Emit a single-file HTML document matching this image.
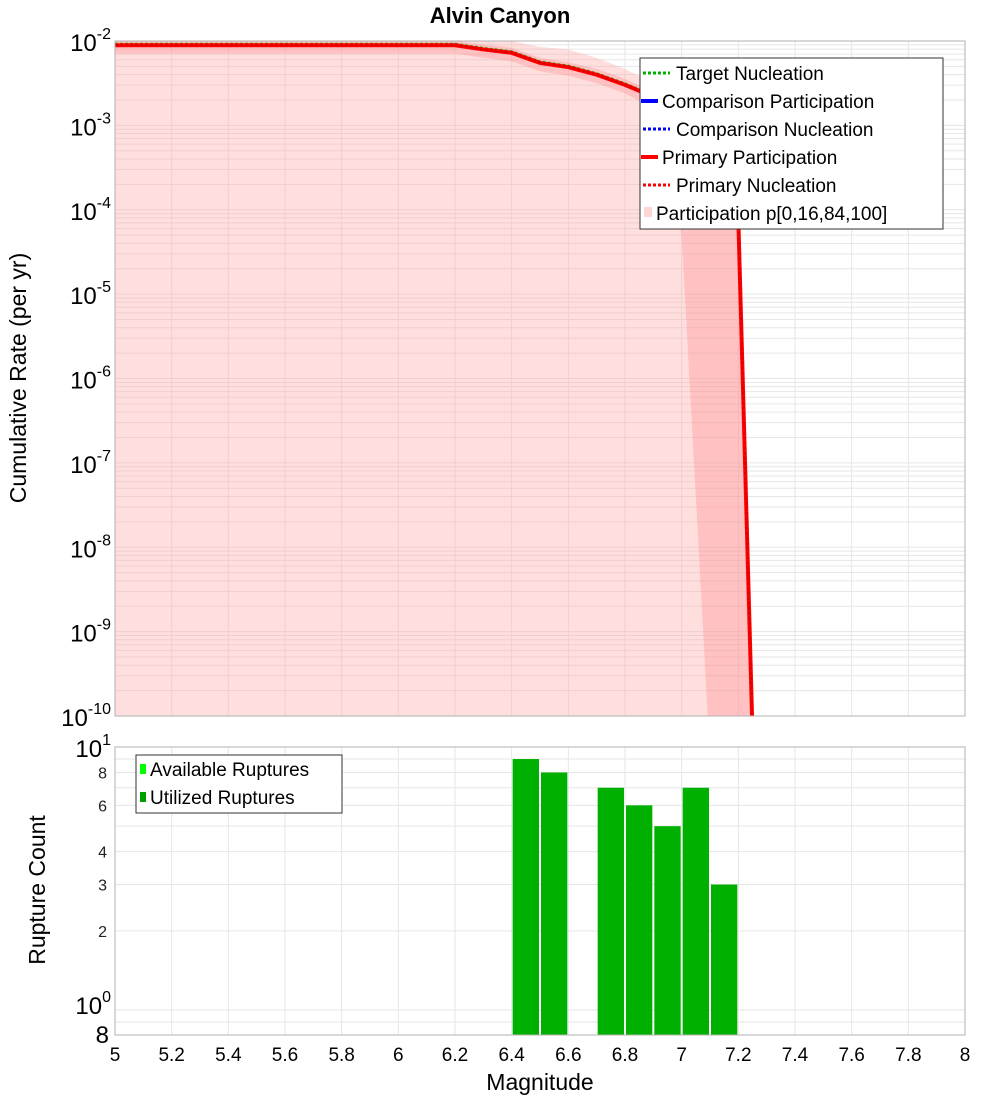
<!DOCTYPE html>
<html><head><meta charset="utf-8"><style>
body{margin:0;background:#fff;}
svg{display:block;font-family:"Liberation Sans","DejaVu Sans",sans-serif;}
</style></head><body>
<svg id="c" width="1000" height="1100" viewBox="0 0 1000 1100" xmlns="http://www.w3.org/2000/svg"></svg>
<script>
// ---- data ----
const mags = [5.0,5.5,6.0,6.2,6.3,6.4,6.5,6.6,6.7,6.8,6.9,7.0,7.1,7.2,7.25];
const primaryLog = [-2.05,-2.05,-2.05,-2.05,-2.1,-2.14,-2.26,-2.31,-2.40,-2.52,-2.66,-2.84,-3.17,-4.12,-10.2];
const outerUpperLog = [-1.95,-1.95,-1.95,-1.97,-1.97,-2.0,-2.07,-2.1,-2.2,-2.33,-2.5,-2.72,-3.0,-4.0,-10.2];
const innerUpperLog = [-1.98,-1.98,-1.98,-2.0,-2.04,-2.08,-2.2,-2.25,-2.33,-2.45,-2.6,-2.78,-3.1,-4.1,-10.2];
const innerLowerLog = [-2.15,-2.15,-2.15,-2.15,-2.2,-2.24,-2.36,-2.41,-2.5,-2.62,-2.8,-4.3,-10.5,-10.5,-10.5];
const barMags = [6.45,6.55,6.75,6.85,6.95,7.05,7.15];
const barCounts = [9,8,7,6,5,7,3];
const xTicks = [5,5.2,5.4,5.6,5.8,6,6.2,6.4,6.6,6.8,7,7.2,7.4,7.6,7.8,8];
const xTickLabels = ["5","5.2","5.4","5.6","5.8","6","6.2","6.4","6.6","6.8","7","7.2","7.4","7.6","7.8","8"];
const topExps = [-2,-3,-4,-5,-6,-7,-8,-9,-10];
const botTicks = [8,6,4,3,2];

// ---- axes ----
const L=115,R=965,T1=41,B1=716,T2=747,B2=1035;
const x = m => L+(m-5)/3*(R-L);
const y1 = lg => T1+(-2-lg)*(B1-T1)/8;
const y2 = v => T2+(1-Math.log10(v))*263;
const svg=document.getElementById('c');
const NS='http://www.w3.org/2000/svg';
function el(tag,attrs,parent){const e=document.createElementNS(NS,tag);for(const k in attrs)e.setAttribute(k,attrs[k]);(parent||svg).appendChild(e);return e;}

// clip paths
const defs=el('defs',{});
const cp1=el('clipPath',{id:'cp1'},defs);el('rect',{x:L,y:T1,width:R-L,height:B1-T1},cp1);
const cp2=el('clipPath',{id:'cp2'},defs);el('rect',{x:L,y:T2,width:R-L,height:B2-T2},cp2);

// top grid
const g1=el('g',{'clip-path':'url(#cp1)'});


for(let e=-10;e<-2;e++){for(let k=1;k<10;k++){const yy=y1(e+Math.log10(k));el('line',{x1:L,x2:R,y1:yy,y2:yy,stroke:'#e6e6e6','stroke-width':1},g1);}}
xTicks.forEach(m=>el('line',{x1:x(m),x2:x(m),y1:T1,y2:B1,stroke:'#e6e6e6','stroke-width':1},g1));

// bands
const gb=el('g',{'clip-path':'url(#cp1)'});
function bandPath(up,lo){let d='';mags.forEach((m,i)=>{d+=(i?'L':'M')+x(m)+','+y1(up[i]);});for(let i=mags.length-1;i>=0;i--)d+='L'+x(mags[i])+','+y1(lo[i]);return d+'Z';}
const floorLog=mags.map((m,i)=>m<=7.2?-10.5:primaryLog[i]);
const ob=el('path',{d:bandPath(outerUpperLog,floorLog),fill:'rgba(255,160,160,0.35)'},gb);


const ib=el('path',{d:bandPath(innerUpperLog,innerLowerLog),fill:'rgba(255,140,140,0.35)'},gb);



// lines
let d='';mags.forEach((m,i)=>{d+=(i?'L':'M')+x(m)+','+y1(primaryLog[i]);});
const gl=el('g',{'clip-path':'url(#cp1)'});
const tn=el('path',{d:d,fill:'none',stroke:'#00b000','stroke-width':3,'stroke-dasharray':'3,2',transform:'translate(0,-1)'},gl);


const pp=el('path',{d:d,fill:'none',stroke:'#ff0000','stroke-width':4},gl);


const pn=el('path',{d:d,fill:'none',stroke:'#dd0000','stroke-width':2,'stroke-dasharray':'3,2'},gl);



el('rect',{x:L,y:T1,width:R-L,height:B1-T1,fill:'none',stroke:'#b0b0b0'});

// top y labels
topExps.forEach(e=>{const t=el('text',{x:L-4,y:y1(e)+10,'text-anchor':'end','font-size':24,fill:'#000'});


const a=el('tspan',{},t);a.textContent='10';const b=el('tspan',{dy:-12,'font-size':16},t);b.textContent=String(e);});

// bottom grid
const g2=el('g',{'clip-path':'url(#cp2)'});
[0.8,0.9,1,2,3,4,5,6,7,8,9].forEach(v=>{const yy=y2(v);el('line',{x1:L,x2:R,y1:yy,y2:yy,stroke:'#e6e6e6'},g2);});
xTicks.forEach(m=>el('line',{x1:x(m),x2:x(m),y1:T2,y2:B2,stroke:'#e6e6e6'},g2));
// bars
barMags.forEach((m,i)=>{const r=el('rect',{x:x(m-0.05)+1,y:y2(barCounts[i]),width:x(m+0.05)-x(m-0.05)-2,height:B2-y2(barCounts[i]),fill:'#00b000'},g2);

});
el('rect',{x:L,y:T2,width:R-L,height:B2-T2,fill:'none',stroke:'#b0b0b0'});

// bottom y labels
[[1,'1'],[0,'0']].forEach(([e,s])=>{const t=el('text',{x:L-4,y:y2(Math.pow(10,e))+ (e?10:4),'text-anchor':'end','font-size':24});


const a=el('tspan',{},t);a.textContent='10';const b=el('tspan',{dy:-12,'font-size':16},t);b.textContent=s;});
botTicks.forEach(v=>{const t=el('text',{x:L-8,y:y2(v)+6,'text-anchor':'end','font-size':16,fill:'#222'});t.textContent=String(v);

});
{const t=el('text',{x:L-6,y:B2+8,'text-anchor':'end','font-size':24});t.textContent='8';

}

// x labels
xTicks.forEach((m,i)=>{const t=el('text',{x:x(m),y:1061,'text-anchor':'middle','font-size':19});t.textContent=xTickLabels[i];

});
</script>
<svg width="1000" height="1100" style="position:absolute;left:0;top:0" xmlns="http://www.w3.org/2000/svg" font-family="Liberation Sans, DejaVu Sans, sans-serif">
<text x="500" y="23" text-anchor="middle" font-size="22" font-weight="bold">Alvin Canyon</text>
<text transform="translate(26,378) rotate(-90)" text-anchor="middle" font-size="23">Cumulative Rate (per yr)</text>
<text transform="translate(45,890) rotate(-90)" text-anchor="middle" font-size="23">Rupture Count</text>
<text x="540" y="1090" text-anchor="middle" font-size="23">Magnitude</text>
<g font-size="19">
<rect x="640" y="58" width="303" height="171" fill="#fff" stroke="#333"/>
<line x1="643" x2="670" y1="73" y2="73" stroke="#00b000" stroke-width="3" stroke-dasharray="3,2"/><text x="676" y="80">Target Nucleation</text>
<line x1="641" x2="658" y1="101" y2="101" stroke="#0000ff" stroke-width="4"/><text x="662" y="108">Comparison Participation</text>
<line x1="643" x2="670" y1="129" y2="129" stroke="#0000ff" stroke-width="3" stroke-dasharray="3,2"/><text x="676" y="136">Comparison Nucleation</text>
<line x1="641" x2="658" y1="157" y2="157" stroke="#ff0000" stroke-width="4"/><text x="662" y="164">Primary Participation</text>
<line x1="643" x2="670" y1="185" y2="185" stroke="#ff0000" stroke-width="3" stroke-dasharray="3,2"/><text x="676" y="192">Primary Nucleation</text>
<rect x="644" y="207" width="8" height="10" fill="#ffd6d6"/><text x="656" y="220">Participation p[0,16,84,100]</text>
</g>
<g font-size="19">
<rect x="136" y="755" width="206" height="58" fill="#fff" stroke="#333"/>
<rect x="140" y="764" width="6" height="10" fill="#00ff00"/><text x="150" y="776">Available Ruptures</text>
<rect x="140" y="792" width="6" height="10" fill="#00a000"/><text x="150" y="804">Utilized Ruptures</text>
</g>
</svg>
</body></html>
